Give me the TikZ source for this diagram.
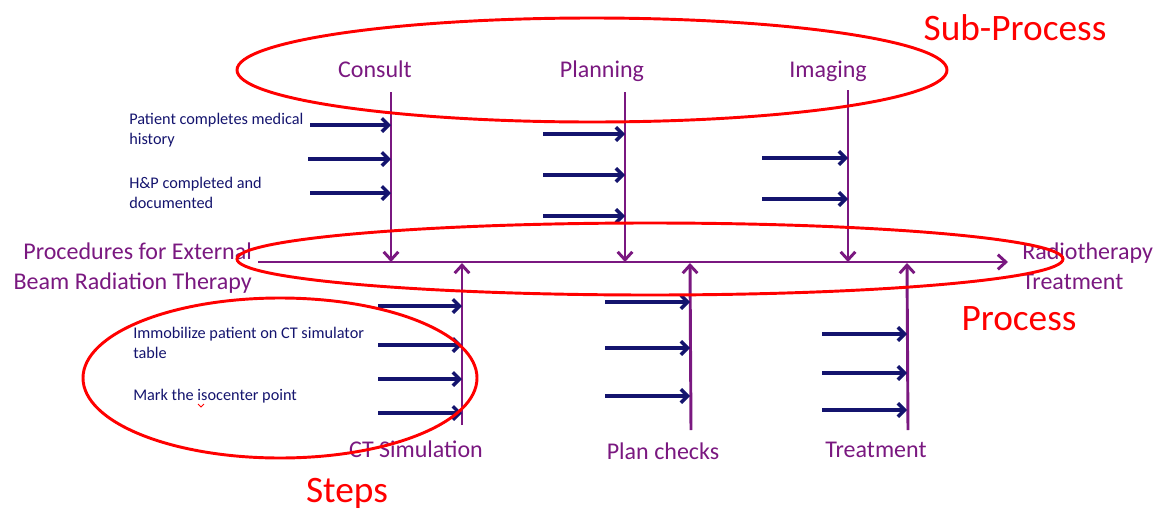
\documentclass[tikz,border=0pt]{standalone}
\usepackage{fontspec}
\setmainfont{Carlito}
\usetikzlibrary{arrows.meta}
\definecolor{spine}{RGB}{122,24,128}
\definecolor{stepblue}{RGB}{20,20,110}
\definecolor{markred}{RGB}{255,0,0}

\begin{document}
\begin{tikzpicture}[x=0.75pt,y=-0.75pt,
  bone/.style={draw=spine, line width=2.2pt, -{Straight Barb[length=6pt,width=11pt]}},
  rib/.style={draw=stepblue, line width=2.6pt, -{Straight Barb[length=5pt,width=10pt]}},
  ring/.style={draw=markred, line width=2.2pt},
  headlbl/.style={text=spine, font=\fontsize{18}{22.5}\selectfont, inner sep=0pt},
  steplbl/.style={text=stepblue, font=\fontsize{12.2}{15}\selectfont, inner sep=0pt, align=left},
  redlbl/.style={text=markred, font=\fontsize{28}{32}\selectfont, inner sep=0pt}]

\useasboundingbox (0,0) rectangle (1161,511);

% main spine
\coordinate (tail) at (258,262);
\coordinate (head) at (1008,262);
\draw[bone] (tail) -- (head);

% end labels of the spine (base anchor sits on the last line)
\node[headlbl, anchor=base east, align=right] (effect-l) at (252,289)
  {Procedures for External\\Beam Radiation Therapy};
\node[headlbl, anchor=base west, align=left] (effect-r) at (1022,289)
  {Radiotherapy\\Treatment};

% upper branches
\node[headlbl, anchor=base] (consult) at (375,77) {Consult};
\node[headlbl, anchor=base] (planning) at (602,77) {Planning};
\node[headlbl, anchor=base] (imaging) at (828,77) {Imaging};
\coordinate (consult-top) at (391,92);   \coordinate (consult-foot) at (391,262);
\coordinate (planning-top) at (625,92);  \coordinate (planning-foot) at (625,262);
\coordinate (imaging-top) at (848,90);   \coordinate (imaging-foot) at (848,262);
\draw[bone] (consult-top) -- (consult-foot);
\draw[bone] (planning-top) -- (planning-foot);
\draw[bone] (imaging-top) -- (imaging-foot);

% lower branches
\node[headlbl, anchor=base] (ctsim) at (416,457) {CT Simulation};
\node[headlbl, anchor=base] (checks) at (663,459) {Plan checks};
\node[headlbl, anchor=base] (treat) at (876,457) {Treatment};
\coordinate (ctsim-foot) at (462,425);   \coordinate (ctsim-top) at (462,263);
\coordinate (checks-foot) at (691,430);  \coordinate (checks-top) at (690,263);
\coordinate (treat-foot) at (908,430);   \coordinate (treat-top) at (907,263);
\draw[bone] (ctsim-foot) -- (ctsim-top);
\draw[bone] (checks-foot) -- (checks-top);
\draw[bone] (treat-foot) -- (treat-top);

% step arrows into each branch
\foreach \y/\x [count=\i] in {125/310,159/308,193/310}{
  \coordinate (cs\i) at (\x,\y); \coordinate (ce\i) at (391,\y);
  \draw[rib] (cs\i) -- (ce\i);}
\foreach \y [count=\i] in {134,175,216}{
  \coordinate (ps\i) at (543,\y); \coordinate (pe\i) at (625,\y);
  \draw[rib] (ps\i) -- (pe\i);}
\foreach \y [count=\i] in {158,199}{
  \coordinate (is\i) at (762,\y); \coordinate (ie\i) at (848,\y);
  \draw[rib] (is\i) -- (ie\i);}
\foreach \y [count=\i] in {306,345,379,413}{
  \coordinate (ss\i) at (378,\y); \coordinate (se\i) at (462,\y);
  \draw[rib] (ss\i) -- (se\i);}
\foreach \y [count=\i] in {302,348,396}{
  \coordinate (ks\i) at (605,\y); \coordinate (ke\i) at (690,\y);
  \draw[rib] (ks\i) -- (ke\i);}
\foreach \y [count=\i] in {334,373,410}{
  \coordinate (ts\i) at (822,\y); \coordinate (te\i) at (907,\y);
  \draw[rib] (ts\i) -- (te\i);}

% step texts
\node[steplbl, anchor=base west] (step-history) at (129,144)
  {Patient completes medical\\history};
\node[steplbl, anchor=base west] (step-hp) at (129,208)
  {H\&P completed and\\documented};
\node[steplbl, anchor=base west] (step-immob) at (133,358)
  {Immobilize patient on CT simulator\\table};
\node[steplbl, anchor=base west] (step-iso) at (133,400)
  {Mark the isocenter point};
% spelling squiggle under the word
\draw[markred, line width=0.6pt] (198,404) -- (201,407) -- (204,404);

% highlight rings
\draw[ring] (592,70) ellipse [x radius=355, y radius=52];
\draw[ring] (650,259) ellipse [x radius=413, y radius=36];
\draw[ring] (280,378) ellipse [x radius=197, y radius=80];

% ring captions
\node[redlbl, anchor=base] (cap-sub) at (1015,40) {Sub-Process};
\node[redlbl, anchor=base] (cap-proc) at (1019,330) {Process};
\node[redlbl, anchor=base] (cap-steps) at (347,502) {Steps};
\end{tikzpicture}
\end{document}
